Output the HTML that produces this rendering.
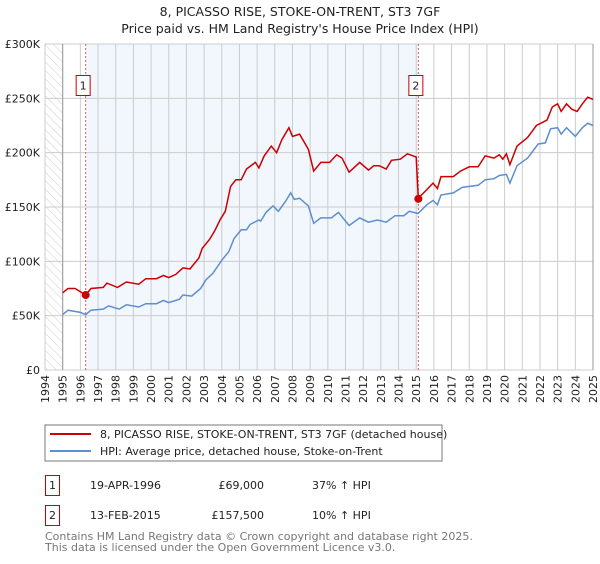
<!DOCTYPE html>
<html><head><meta charset="utf-8"><style>
body{margin:0;background:#fff;font-family:"DejaVu Sans","Liberation Sans",sans-serif;}
svg text{font-family:"DejaVu Sans","Liberation Sans",sans-serif;}
</style></head><body>
<svg id="chart" width="600" height="560" xmlns="http://www.w3.org/2000/svg">
<defs><pattern id="hatch" width="6" height="6" patternUnits="userSpaceOnUse" patternTransform="rotate(-45)"><line x1="0" y1="0" x2="0" y2="6" stroke="#ccc" stroke-width="1"/></pattern></defs>
<text x="300" y="16" text-anchor="middle" font-size="12.5" fill="#222">8, PICASSO RISE, STOKE-ON-TRENT, ST3 7GF</text>
<text x="300" y="33" text-anchor="middle" font-size="12.5" fill="#222">Price paid vs. HM Land Registry's House Price Index (HPI)</text>
<g id="plot"></g>
<rect x="45" y="425" width="397" height="36" fill="#fff" stroke="#777"/>
<line x1="50" y1="434" x2="91" y2="434" stroke="#cc0000" stroke-width="2"/>
<text x="100" y="438" font-size="11" fill="#222">8, PICASSO RISE, STOKE-ON-TRENT, ST3 7GF (detached house)</text>
<line x1="50" y1="451" x2="91" y2="451" stroke="#5b8fd0" stroke-width="2"/>
<text x="100" y="455" font-size="11" fill="#222">HPI: Average price, detached house, Stoke-on-Trent</text>
<g>
<rect x="45.5" y="475.5" width="14" height="20" fill="#fff" stroke="#cc0000"/>
<text x="52.5" y="489" text-anchor="middle" font-size="11" fill="#222">1</text>
<text x="90" y="489" font-size="11" fill="#222">19-APR-1996</text>
<text x="264" y="489" text-anchor="end" font-size="11" fill="#222">£69,000</text>
<text x="312" y="489" font-size="11" fill="#222">37% ↑ HPI</text></g>
<g>
<rect x="45.5" y="505.5" width="14" height="20" fill="#fff" stroke="#cc0000"/>
<text x="52.5" y="519" text-anchor="middle" font-size="11" fill="#222">2</text>
<text x="90" y="519" font-size="11" fill="#222">13-FEB-2015</text>
<text x="264" y="519" text-anchor="end" font-size="11" fill="#222">£157,500</text>
<text x="312" y="519" font-size="11" fill="#222">10% ↑ HPI</text></g>
<text x="45" y="540" font-size="11" fill="#777">Contains HM Land Registry data © Crown copyright and database right 2025.</text>
<text x="45" y="551" font-size="11" fill="#777">This data is licensed under the Open Government Licence v3.0.</text>
</svg>
<script>
const yTicks=[0,50,100,150,200,250,300];
const yTickLabels=["£0","£50K","£100K","£150K","£200K","£250K","£300K"];
const xYears=[1994,1995,1996,1997,1998,1999,2000,2001,2002,2003,2004,2005,2006,2007,2008,2009,2010,2011,2012,2013,2014,2015,2016,2017,2018,2019,2020,2021,2022,2023,2024,2025];
const redT=[1995.0,1995.3,1995.7,1996.0,1996.3,1996.6,1997.3,1997.5,1998.1,1998.6,1999.3,1999.7,2000.3,2000.7,2001.0,2001.4,2001.8,2002.2,2002.7,2002.9,2003.3,2003.6,2003.9,2004.2,2004.5,2004.8,2005.1,2005.4,2005.9,2006.1,2006.4,2006.8,2007.1,2007.4,2007.8,2008.0,2008.4,2008.9,2009.2,2009.6,2010.1,2010.5,2010.8,2011.2,2011.8,2012.3,2012.6,2012.9,2013.3,2013.6,2014.1,2014.5,2015.0,2015.12,2015.6,2015.95,2016.2,2016.4,2017.1,2017.5,2018.0,2018.5,2018.9,2019.4,2019.7,2019.9,2020.1,2020.3,2020.7,2021.3,2021.8,2022.4,2022.7,2023.0,2023.2,2023.5,2023.8,2024.1,2024.4,2024.7,2025.0];
const redV=[71,75,75,72,69,75,76,80,76,81,79,84,84,87,85,88,94,93,103,112,120,128,138,146,169,175,175,185,191,186,197,206,200,212,223,215,217,203,183,191,191,198,195,182,191,184,188,188,185,193,194,199,196,158,166,172,167,178,178,183,187,187,197,195,198,194,199,189,206,214,225,230,242,245,238,245,240,238,245,251,249];
const hpiT=[1995.0,1995.3,1996.0,1996.3,1996.6,1997.3,1997.6,1998.2,1998.6,1999.3,1999.7,2000.3,2000.7,2001.0,2001.6,2001.8,2002.3,2002.8,2003.1,2003.5,2004.0,2004.4,2004.7,2005.1,2005.4,2005.6,2006.1,2006.2,2006.5,2006.9,2007.2,2007.6,2007.9,2008.1,2008.4,2008.9,2009.2,2009.6,2010.2,2010.6,2011.2,2011.8,2012.3,2012.8,2013.3,2013.8,2014.3,2014.6,2015.1,2015.6,2015.95,2016.2,2016.4,2017.1,2017.6,2018.5,2018.9,2019.4,2019.7,2020.1,2020.3,2020.7,2021.3,2021.9,2022.3,2022.6,2023.0,2023.2,2023.5,2024.0,2024.4,2024.7,2025.0];
const hpiV=[51,55,53,51,55,56,59,56,60,58,61,61,64,62,65,69,68,75,83,89,101,109,121,129,129,134,138,137,145,151,146,155,163,157,158,151,135,140,140,145,133,140,136,138,136,142,142,146,144,152,156,152,161,163,168,170,175,176,179,180,172,188,195,208,209,222,223,217,223,215,223,227,225];
const saleT=[1996.3,2015.12];
const saleV=[69,157.5];
const saleLabels=["1","2"];

const NS="http://www.w3.org/2000/svg";
const L=45,R=593,T=44,B=370;
const xs=t=>L+(t-1994)*(R-L)/31;
const ys=v=>B-v*(B-T)/300;
const g=document.getElementById('plot');
function mk(tag,attrs){const e=document.createElementNS(NS,tag);for(const k in attrs)e.setAttribute(k,attrs[k]);g.appendChild(e);return e;}
let e;
e=mk('rect',{x:xs(saleT[0]),y:T,width:xs(saleT[1])-xs(saleT[0]),height:B-T,fill:'#f2f6fd'});


e=mk('rect',{x:L,y:T,width:xs(1995)-L,height:B-T,fill:'url(#hatch)'});


xYears.forEach((yr,i)=>{
  e=mk('line',{x1:xs(yr),x2:xs(yr),y1:T,y2:B,stroke:'#ccc','stroke-width':1});
  
  
  const tx=mk('text',{x:0,y:0,'font-size':11,fill:'#222','text-anchor':'end',transform:`translate(${xs(yr)+4},${B+5}) rotate(-90)`});
  tx.textContent=yr;
  
  
});
yTicks.forEach((v,i)=>{
  e=mk('line',{x1:L,x2:R,y1:ys(v),y2:ys(v),stroke:'#ccc','stroke-width':1});
  
  
  const tx=mk('text',{x:L-5,y:ys(v)+4,'font-size':11,fill:'#222','text-anchor':'end'});
  tx.textContent=yTickLabels[i];
  
  
});
e=mk('line',{x1:xs(1995),x2:xs(1995),y1:T,y2:B,stroke:'#999','stroke-width':1});


e=mk('line',{x1:R,x2:R,y1:T,y2:B,stroke:'#999','stroke-width':1});


saleT.forEach((t,i)=>{
  e=mk('line',{x1:xs(t),x2:xs(t),y1:T,y2:B,stroke:'#e06060','stroke-width':1,'stroke-dasharray':'2,2'});
  
  
});
const path=(T_,V_)=>T_.map((t,i)=>(i?'L':'M')+xs(t).toFixed(1)+','+ys(V_[i]).toFixed(1)).join('');
e=mk('path',{d:path(hpiT,hpiV),fill:'none',stroke:'#5b8fd0','stroke-width':1.5});


e=mk('path',{d:path(redT,redV),fill:'none',stroke:'#cc0000','stroke-width':1.5});


saleT.forEach((t,i)=>{
  e=mk('circle',{cx:xs(t),cy:ys(saleV[i]),r:4,fill:'#cc0000'});
  
  
  const bx=xs(t)-10;
  e=mk('rect',{x:bx+0.5,y:75.5,width:14,height:20,fill:'#fff',stroke:'#cc0000'});
  
  
  const tx=mk('text',{x:bx+7.5,y:89.5,'font-size':11,fill:'#222','text-anchor':'middle'});
  tx.textContent=saleLabels[i];
  
  
});
</script>
</body></html>
